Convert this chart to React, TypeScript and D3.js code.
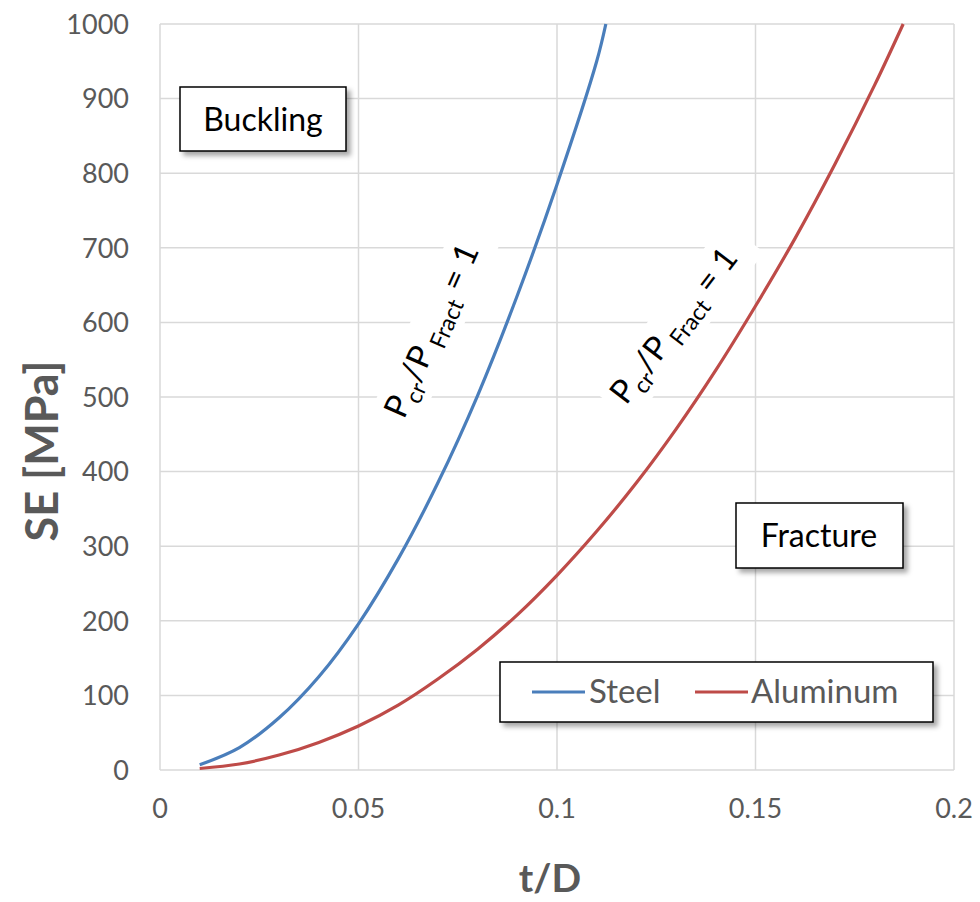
import React from "react";
import * as d3 from "d3";

// values
const steelT = [0.01, 0.02, 0.03, 0.04, 0.05, 0.06, 0.07, 0.08, 0.09, 0.1, 0.11, 0.1123];
const steelSE = [7, 30, 70, 125, 196, 283, 385, 502, 636, 785, 950, 1000];

const aluT = [0.01, 0.02, 0.03, 0.04, 0.05, 0.06, 0.07, 0.08, 0.09, 0.1, 0.11, 0.12, 0.13, 0.14, 0.15, 0.16, 0.17, 0.18, 0.1872];
const aluSE = [2, 8, 20, 37, 59, 87, 122, 162, 208, 261, 320, 385, 457, 536, 622, 713, 812, 918, 1000];

const xTicks = [0, 0.05, 0.1, 0.15, 0.2];
const xTickLabels = ["0", "0.05", "0.1", "0.15", "0.2"];
const yTicks = [0, 100, 200, 300, 400, 500, 600, 700, 800, 900, 1000];

const series = [
  { name: "Steel", t: steelT, se: steelSE, color: "#4a7ebb" },
  { name: "Aluminum", t: aluT, se: aluSE, color: "#be4b48" },
];

const W = 980;
const H = 902;
const FONT = "Lato, 'Open Sans', sans-serif";
const GRAY = "#595959";

export default function App() {
  const x = d3.scaleLinear().domain([0, 0.2]).range([160, 954]);
  const y = d3.scaleLinear().domain([0, 1000]).range([770, 24]);

  const line = d3
    .line<[number, number]>()
    .x((d) => x(d[0]))
    .y((d) => y(d[1]))
    .curve(d3.curveCatmullRom.alpha(0.5));

  const label = (px: number, py: number, angle: number) => (
    <g transform={`translate(${px},${py}) rotate(${-angle})`}>
      <rect x={-8} y={-34} width={214} height={50} fill="#fff" />
      <text fontFamily={FONT} fontSize={33} fill="#000">
        P
        <tspan fontSize={23} dy={8}>cr</tspan>
        <tspan dy={-8}>/P</tspan>
        <tspan fontSize={23} dy={8}> Fract</tspan>
        <tspan dy={-8}> = 1</tspan>
      </text>
    </g>
  );

  return (
    <svg
      width={W}
      height={H}
      style={{ position: "absolute", left: 0, top: 0, background: "#fff" }}
    >
      <defs>
        <filter id="shadow" x="-10%" y="-10%" width="130%" height="140%">
          <feDropShadow dx={4} dy={4} stdDeviation={2.5} floodColor="#000" floodOpacity={0.35} />
        </filter>
      </defs>
      <rect width={W} height={H} fill="#fff" />

      {/* grid */}
      {yTicks.map((v) => (
        <line key={"h" + v} x1={x(0)} x2={x(0.2)} y1={y(v)} y2={y(v)} stroke="#d9d9d9" strokeWidth={1.5} />
      ))}
      {xTicks.map((v) => (
        <line key={"v" + v} x1={x(v)} x2={x(v)} y1={y(0)} y2={y(1000)} stroke="#d9d9d9" strokeWidth={1.5} />
      ))}

      {/* tick labels */}
      {yTicks.map((v) => (
        <text key={"yl" + v} x={129} y={y(v)} dy="0.36em" textAnchor="end" fontFamily={FONT} fontSize={27} fill={GRAY}>
          {v}
        </text>
      ))}
      {xTicks.map((v, i) => (
        <text key={"xl" + v} x={x(v)} y={818} textAnchor="middle" fontFamily={FONT} fontSize={27} fill={GRAY}>
          {xTickLabels[i]}
        </text>
      ))}

      {/* axis titles */}
      <text x={x(0.1) - 7} y={892} textAnchor="middle" fontFamily={FONT} fontWeight="bold" fontSize={39} fill={GRAY}>
        t/D
      </text>
      <text
        transform={`translate(58,451) rotate(-90)`}
        textAnchor="middle"
        fontFamily={FONT}
        fontWeight="bold"
        fontSize={45}
        fill={GRAY}
      >
        SE [MPa]
      </text>

      {/* ratio labels (white backing interrupts grid) */}
      {label(404, 420, 66)}
      {label(626, 406, 52.5)}

      {/* curves */}
      {series.map((s) => (
        <path
          key={s.name}
          d={line(s.t.map((t, i) => [t, s.se[i]] as [number, number])) || ""}
          fill="none"
          stroke={s.color}
          strokeWidth={3.2}
        />
      ))}

      {/* region boxes */}
      <g filter="url(#shadow)">
        <rect x={180} y={87} width={166} height={64} fill="#fff" stroke="#000" strokeWidth={1.5} />
        <rect x={736} y={503} width={167} height={65} fill="#fff" stroke="#000" strokeWidth={1.5} />
        <rect x={500} y={662} width={433} height={60} fill="#fff" stroke="#000" strokeWidth={1.5} />
      </g>
      <text x={263} y={131} textAnchor="middle" fontFamily={FONT} fontSize={32} fill="#000">
        Buckling
      </text>
      <text x={819} y={547} textAnchor="middle" fontFamily={FONT} fontSize={32} fill="#000">
        Fracture
      </text>

      {/* legend */}
      <line x1={532} x2={585} y1={692} y2={692} stroke={series[0].color} strokeWidth={3.2} />
      <text x={589} y={703} fontFamily={FONT} fontSize={33} fill={GRAY}>
        {series[0].name}
      </text>
      <line x1={695} x2={748} y1={692} y2={692} stroke={series[1].color} strokeWidth={3.2} />
      <text x={751} y={703} fontFamily={FONT} fontSize={33} fill={GRAY}>
        {series[1].name}
      </text>
    </svg>
  );
}
